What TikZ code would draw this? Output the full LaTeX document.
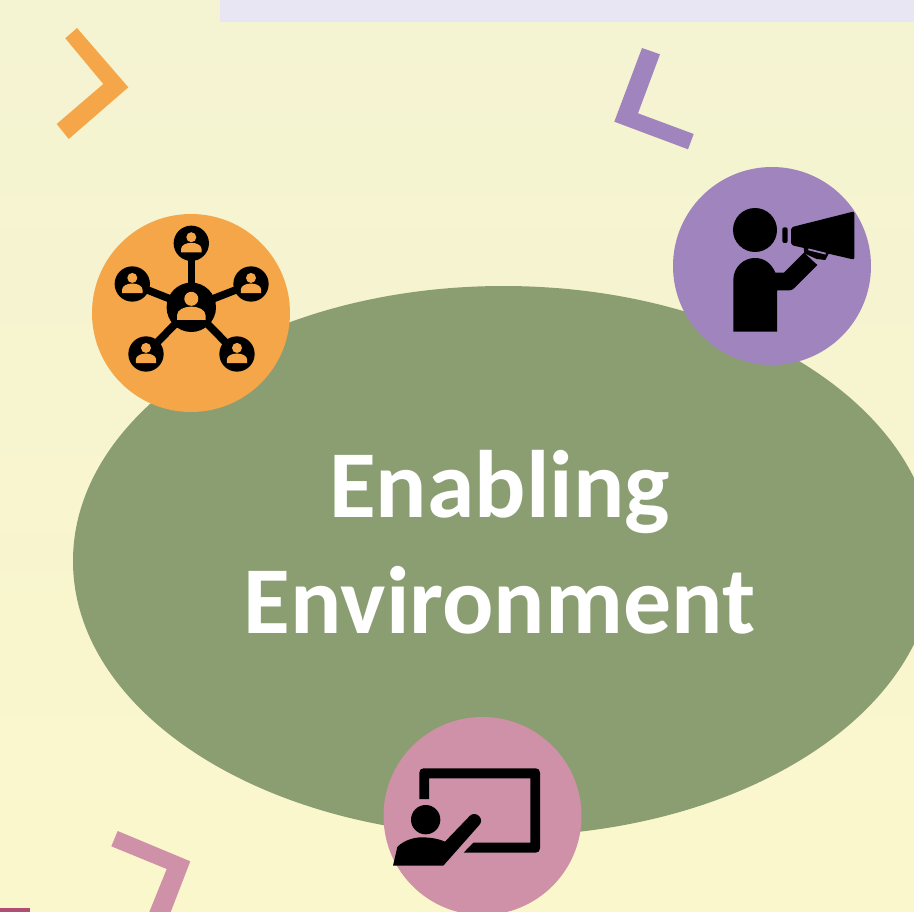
\documentclass[tikz,border=0pt]{standalone}
\usepackage{fontspec}
\setmainfont{Carlito}
\definecolor{bgtop}{HTML}{F4F3D2}
\definecolor{bgbot}{HTML}{FBF7CC}
\definecolor{strip}{HTML}{E9E6F4}
\definecolor{mag}{HTML}{B04F73}
\definecolor{sage}{HTML}{8A9E72}
\definecolor{orng}{HTML}{F4A648}
\definecolor{purp}{HTML}{9F84BD}
\definecolor{pnk}{HTML}{CF91A8}
\tikzset{
  titletext/.style={text=white,font=\bfseries\fontsize{95.8}{116}\selectfont,anchor=base,inner sep=0pt},
  badge/.style={radius=99},
  icon/.style={x=0.33333pt,y=-0.33333pt},
  link/.style={line width=7.6pt,draw=black}
}
\newcommand{\personglyph}[3]{%
  \begin{scope}[shift={(#1,#2)},x=#3pt,y=-#3pt]
    \fill[black] (0,0) circle [radius=24.7];
    \fill[orng] (0,-8.5) circle [radius=7];
    \fill[orng] (-14.3,12.7) -- (-14.3,8) .. controls (-14.3,2.5) and (-7,-0.7) .. (0,-0.7)
      .. controls (7,-0.7) and (14.3,2.5) .. (14.3,8) -- (14.3,12.7) -- cycle;
  \end{scope}}
\begin{document}
\begin{tikzpicture}[x=1pt,y=-1pt]
\useasboundingbox (0,0) rectangle (914,912);
\clip (0,0) rectangle (914,912);
\shade[top color=bgtop,bottom color=bgbot] (0,0) rectangle (914,912);
\fill[strip] (220,0) rectangle (914,22);
\fill[mag] (0,908) rectangle (30,912);
% chevrons
\fill[orng] (77,28) -- (128.3,87.3) -- (68.7,139) -- (56.7,124) -- (103.3,84) -- (65.3,38.3) -- cycle;
\fill[purp] (642,48) -- (660,54.3) -- (638,113.3) -- (693.7,134) -- (688,149.3) -- (614.3,121.7) -- cycle;
\fill[pnk] (117.7,831) -- (190.3,861.3) -- (170.7,912) -- (149.3,912) -- (166.7,869) -- (111.3,846.3) -- cycle;
% ellipse
\fill[sage] (503.5,561) ellipse [x radius=430.5,y radius=275];
% badges
\fill[orng] (191,313) circle [badge];
\fill[purp] (772,266) circle [badge];
\fill[pnk] (482.5,816) circle [badge];
% network icon
\draw[link] (191.3,307.3) -- (191.3,243.3);
\draw[link] (191.3,307.3) -- (132.3,284);
\draw[link] (191.3,307.3) -- (251,284);
\draw[link] (191.3,307.3) -- (146,354);
\draw[link] (191.3,307.3) -- (237,354);
\personglyph{191.3}{307.3}{1}
\personglyph{191.3}{243.3}{0.715}
\personglyph{132.3}{284}{0.715}
\personglyph{251}{284}{0.715}
\personglyph{146}{354}{0.715}
\personglyph{237}{354}{0.715}
% megaphone icon
\begin{scope}[shift={(660,160)},icon]
  \fill[black] (285,210) circle [radius=66];
  \fill[black] (220,515) -- (220,360) .. controls (220,322) and (250,294) .. (285,294)
    .. controls (312,294) and (335,310) .. (346,338) -- (372,338) -- (432,278) -- (472,315)
    -- (402,385) .. controls (398,389) and (394,391) .. (388,391) -- (351,391) -- (351,515) -- cycle;
  \fill[black,rounded corners=2pt] (393,202) -- (583,154) -- (583,299) -- (393,255) -- cycle;
  \fill[black,rounded corners=2pt] (367,202) rectangle (383,249);
  \fill[black] (431,262) -- (507,279) -- (496,300) -- (470,297) -- (433,280) -- cycle;
  \draw[purp,line width=1.8pt] (445,268) -- (497,281);
\end{scope}
% classroom icon
\begin{scope}[shift={(370,700)},icon]
  \fill[black,even odd rule] (148,297) -- (148,218) .. controls (148,210) and (153,205) .. (161,205)
    -- (497,205) .. controls (505,205) and (510,210) .. (510,218) -- (510,445)
    .. controls (510,453) and (505,458) .. (497,458) -- (281,458) -- (310,428) -- (481,428)
    -- (481,235) -- (177,235) -- (177,297) -- cycle;
  \fill[black] (167,359) circle [radius=44];
  \fill[black] (69,497) -- (82,441) .. controls (100,422) and (130,412) .. (155,412)
    .. controls (180,412) and (205,416) .. (225,425) -- (300,347)
    .. controls (307,340) and (320,340) .. (328,349) .. controls (335,357) and (335,367) .. (328,375)
    -- (220,497) -- cycle;
\end{scope}
% title
\node[titletext] (enabling) at (499.5,517) {Enabling};
\node[titletext] (environment) at (499.5,633) {Environment};
\end{tikzpicture}
\end{document}
